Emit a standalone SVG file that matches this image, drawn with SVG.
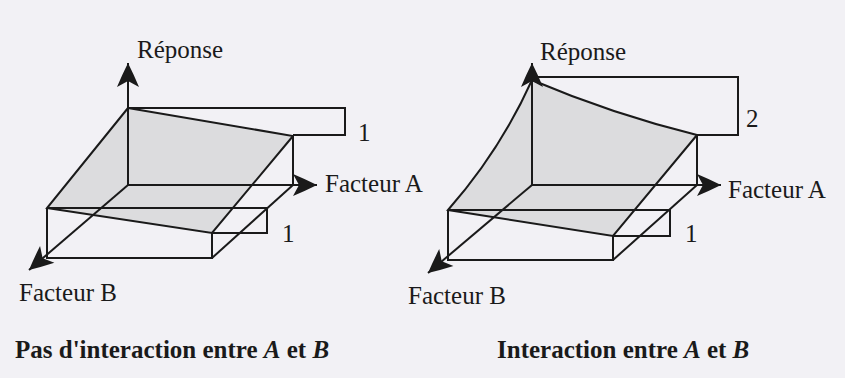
<svg xmlns="http://www.w3.org/2000/svg" width="845" height="378" viewBox="0 0 845 378">
<defs>
<style>
.ln{fill:none;stroke:#1a1a1a;stroke-width:2;stroke-linejoin:miter}
.ax{fill:none;stroke:#1a1a1a;stroke-width:2;marker-end:url(#ah)}
.sh{fill:#dcdcde;stroke:none}
text{font-family:"Liberation Serif","Times New Roman","DejaVu Serif",serif;fill:#1a1a1a}
.t{font-size:25px}
.cap{font-size:25px;font-weight:bold}
</style>
<marker id="ah" viewBox="-25 -12 26 24" refX="0" refY="0" markerWidth="26" markerHeight="24" markerUnits="userSpaceOnUse" orient="auto">
<path d="M0,0 Q-12,-6 -24,-11 L-18,0 L-24,11 Q-12,6 0,0 Z" fill="#1a1a1a"/>
</marker>
</defs>
<rect width="845" height="378" fill="#f2f1f5"/>

<g id="left-diagram">
<g id="left-surface">
<path class="sh" d="M128,108 L293,136 L212,233 L47,208 Z"/>
</g>
<g id="left-connectors">
<line class="ax" x1="128" y1="185" x2="128" y2="63"/>
<line class="ax" x1="128" y1="185" x2="317" y2="185"/>
<line class="ax" x1="128" y1="185" x2="29" y2="270"/>
<path class="ln" d="M128,108 L345,108 L345,135 L293,135"/>
<path class="ln" d="M128,108 L293,136 L293,185"/>
<path class="ln" d="M128,108 L47,208 L212,233 L293,136"/>
<path class="ln" d="M47,208 L267,208 L267,233 L212,233"/>
<path class="ln" d="M47,208 L47,258 L212,258 L212,233"/>
<path class="ln" d="M212,258 L293,185"/>
</g>
<text class="t" x="137" y="58" font-family="Liberation Serif, serif">Réponse</text>
<text class="t" x="358" y="141" font-family="Liberation Serif, serif">1</text>
<text class="t" x="325" y="192" font-family="Liberation Serif, serif">Facteur A</text>
<text class="t" x="282" y="242" font-family="Liberation Serif, serif">1</text>
<text class="t" x="19" y="301" font-family="Liberation Serif, serif">Facteur B</text>
</g>

<g id="right-diagram">
<g id="right-surface">
<path class="sh" d="M532,80 Q612,114 697,135 L613,236 L448,210 Q500,151 532,80 Z"/>
</g>
<g id="right-connectors">
<line class="ax" x1="532" y1="185" x2="532" y2="63"/>
<line class="ax" x1="532" y1="185" x2="721" y2="185"/>
<line class="ax" x1="532" y1="185" x2="428" y2="273"/>
<path class="ln" d="M532,77 L738,77 L738,135 L697,135"/>
<path class="ln" d="M532,80 Q612,114 697,135 L697,185"/>
<path class="ln" d="M532,80 Q500,151 448,210 L613,236 L697,135"/>
<path class="ln" d="M448,210 L670,210 L670,236 L613,236"/>
<path class="ln" d="M448,210 L448,260 L613,260 L613,236"/>
<path class="ln" d="M613,260 L697,185"/>
</g>
<text class="t" x="540" y="60" font-family="Liberation Serif, serif">Réponse</text>
<text class="t" x="746" y="127" font-family="Liberation Serif, serif">2</text>
<text class="t" x="728" y="198" font-family="Liberation Serif, serif">Facteur A</text>
<text class="t" x="685" y="242" font-family="Liberation Serif, serif">1</text>
<text class="t" x="408" y="304" font-family="Liberation Serif, serif">Facteur B</text>
</g>

<g id="captions">
<text class="cap" x="15" y="358" font-family="Liberation Serif, serif">Pas d'interaction entre <tspan font-style="italic">A</tspan> et <tspan font-style="italic">B</tspan></text>
<text class="cap" x="497" y="358" font-family="Liberation Serif, serif">Interaction entre <tspan font-style="italic">A</tspan> et <tspan font-style="italic">B</tspan></text>
</g>
</svg>
